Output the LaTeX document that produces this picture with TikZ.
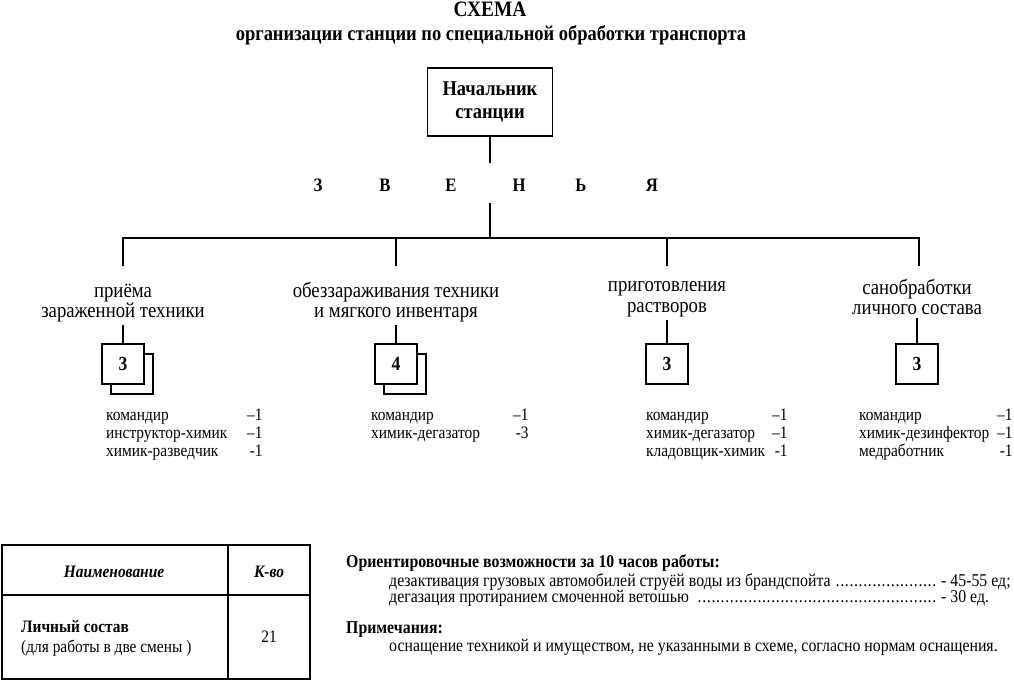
\documentclass[tikz,border=0pt]{standalone}
\usepackage{fontspec}
\setmainfont{Liberation Serif}[FakeStretch=0.88]
\newcommand{\leaderdots}{\leaders\hbox to 4.6pt{\hss.\hss}\hfill}

\begin{document}
\begin{tikzpicture}[x=1pt, y=-1pt,
    line/.style={line width=1.2pt}, % connector lines
    heading/.style={anchor=base, inner sep=0pt, font=\fontsize{21}{21}\selectfont\bfseries},
    chiefbox/.style={draw, line width=1.6pt, minimum width=125pt, minimum height=68pt, align=center, font=\fontsize{21}{23}\selectfont\bfseries},
    linkletter/.style={anchor=base, inner sep=0pt, font=\fontsize{19}{19}\selectfont\bfseries},
    unitlabel/.style={align=center, inner sep=3pt, font=\fontsize{21.3}{20.5}\selectfont},
    numbox/.style={draw, fill=white, line width=1.4pt, minimum width=42pt, minimum height=40pt, inner sep=0pt, font=\fontsize{20}{20}\selectfont\bfseries},
    stafflist/.style={anchor=north west, inner sep=0pt, font=\fontsize{17.5}{18}\selectfont},
    cell/.style={inner sep=0pt, font=\fontsize{17.5}{17.5}\selectfont},
    notetext/.style={anchor=base west, inner sep=0pt, font=\fontsize{18}{18}\selectfont},
    notebold/.style={notetext, font=\fontsize{18}{18}\selectfont\bfseries}
]
    \useasboundingbox (0,0) rectangle (1014,681);

    % Title
    \node[heading, font=\fontsize{22}{22}\selectfont\bfseries] (title) at (490,16) {СХЕМА};
    \node[heading] (subtitle) at (491,40) {организации станции по специальной обработки транспорта};

    % Chief of station
    \node[chiefbox] (chief) at (490,102) {Начальник\\станции};

    % Links (spaced letters)
    \foreach \ch/\x [count=\i] in {З/318,В/385,Е/451,Н/519,Ь/581,Я/652}
        \node[linkletter] (z\i) at (\x,191) {\ch};

    % Branch points
    \coordinate (linkTop) at (490,163);
    \coordinate (linkBot) at (490,203);
    \coordinate (bus) at (490,238);
    \coordinate (d1) at (123,266);
    \coordinate (d2) at (396,266);
    \coordinate (d3) at (667,266);
    \coordinate (d4) at (919,266);

    \draw[line] (chief.south) -- (linkTop);
    \draw[line] (linkBot) -- (bus);
    \draw[line] (d1) |- (bus) -| (d4);
    \draw[line] (bus) -| (d2);
    \draw[line] (bus) -| (d3);

    % Unit names
    \node[unitlabel] (u1) at (123,303) {приёма\\зараженной техники};
    \node[unitlabel] (u2) at (396,302) {обеззараживания техники\\и мягкого инвентаря};
    \node[unitlabel] (u3) at (667,299) {приготовления\\растворов};
    \node[unitlabel] (u4) at (917,297) {санобработки\\личного состава};

    % Number of people (double box = two shifts)
    \coordinate (p1) at (123,364);
    \coordinate (p2) at (396,364);
    \node[numbox] (n1s) at ([shift={(9,10)}]p1) {};
    \node[numbox] (n1) at (p1) {3};
    \node[numbox] (n2s) at ([shift={(9,10)}]p2) {};
    \node[numbox] (n2) at (p2) {4};
    \node[numbox] (n3) at (667,364) {3};
    \node[numbox] (n4) at (917,364) {3};

    \draw[line] (u1.south) -- (n1.north);
    \draw[line] (u2.south) -- (n2.north);
    \draw[line] (u3.south) -- (n3.north);
    \draw[line] (u4.south) -- (n4.north);

    % Staff of each unit
    \node[stafflist] (s1) at (106,408) {\begin{tabular}{@{}p{141pt}@{}r@{}}
        командир & –1\\ инструктор-химик & –1\\ химик-разведчик & -1\end{tabular}};
    \node[stafflist] (s2) at (371,408) {\begin{tabular}{@{}p{142pt}@{}r@{}}
        командир & –1\\ химик-дегазатор & -3\end{tabular}};
    \node[stafflist] (s3) at (646,408) {\begin{tabular}{@{}p{126pt}@{}r@{}}
        командир & –1\\ химик-дегазатор & –1\\ кладовщик-химик & -1\end{tabular}};
    \node[stafflist] (s4) at (859,408) {\begin{tabular}{@{}p{138pt}@{}r@{}}
        командир & –1\\ химик-дезинфектор & –1\\ медработник & -1\end{tabular}};

    % Table
    \draw[line width=1.8pt] (2,545) rectangle (310,679);
    \draw[line width=1.6pt] (228,545) -- (228,679);
    \draw[line width=1.6pt] (2,595) -- (310,595);
    \node[cell, font=\fontsize{17.5}{17.5}\selectfont\bfseries\itshape] (hname) at (114,572) {Наименование};
    \node[cell, font=\fontsize{17.5}{17.5}\selectfont\bfseries\itshape] (hcount) at (269,572) {К-во};
    \node[cell, anchor=base west, font=\fontsize{17.5}{17.5}\selectfont\bfseries] (rname) at (21,632) {Личный состав};
    \node[cell, anchor=base west] (rnote) at (21,652) {(для работы в две смены )};
    \node[cell] (rcount) at (269,637) {21};

    % Notes
    \node[notebold] (capHead) at (346,567) {Ориентировочные возможности за 10 часов работы:};
    \node[notetext] (cap1) at (389,586) {\makebox[552pt][l]{дезактивация грузовых автомобилей струёй воды из брандспойта \leaderdots}- 45-55 ед;};
    \node[notetext] (cap2) at (389,602) {\makebox[552pt][l]{дегазация протиранием смоченной ветошью \leaderdots}- 30 ед.};
    \node[notebold] (remHead) at (346,633) {Примечания:};
    \node[notetext] (rem1) at (389,651) {оснащение техникой и имуществом, не указанными в схеме, согласно нормам оснащения.};
\end{tikzpicture}
\end{document}
